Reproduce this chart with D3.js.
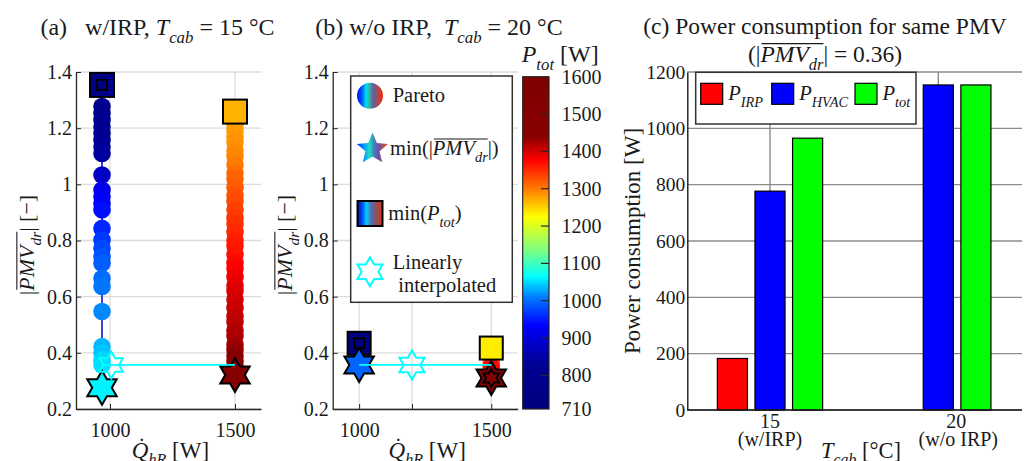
<!DOCTYPE html>
<html><head><meta charset="utf-8">
<script src="https://cdn.jsdelivr.net/npm/d3@7"></script>
<style>
html,body{margin:0;padding:0;background:#fff;}
svg text{font-family:'Liberation Serif','Times New Roman',serif;fill:#1a1a1a;white-space:pre;}
</style></head>
<body><svg id="c" width="1028" height="461"></svg>
<script>
// ---------------- DATA ----------------
// Panel (a): w/IRP, Tcab = 15 °C
const paretoA1_Q = 968;
const paretoA1_PMV = [1.277,1.253,1.229,1.205,1.182,1.158,1.134,1.110,1.033,0.980,0.956,0.932,0.909,0.843,0.802,0.772,0.742,0.719,0.665,0.636,0.547,0.422,0.400,0.374,0.357];
const paretoA1_Ptot = [800,806,812,818,825,830,836,842,880,915,925,935,942,958,968,978,984,990,1000,1005,1015,1035,1040,1048,1052];
const paretoA2_Q = 1500;
const paretoA2_PMV = [1.21,1.19,1.17,1.15,1.12,1.10,1.07,1.04,1.02,0.99,0.96,0.94,0.91,0.88,0.86,0.83,0.80,0.78,0.75,0.72,0.70,0.67,0.64,0.62,0.59,0.56,0.53,0.51,0.48,0.46,0.43,0.41,0.39,0.37,0.35];
const paretoA2_Ptot = [1279,1281,1284,1287,1290,1293,1300,1308,1315,1320,1326,1330,1337,1342,1347,1352,1358,1362,1367,1372,1378,1385,1390,1395,1400,1404,1408,1412,1416,1420,1426,1432,1440,1460,1480];
const minPtotA_Q = [968, 1500];
const minPtotA_PMV = [1.354, 1.259];
const minPtotA_Ptot = [770, 1268];
const innerSquareA_Q = [968];
const innerSquareA_PMV = [1.354];
const innerSquareA_Ptot = [770];
const minPmvA_Q = [968, 1500];
const minPmvA_PMV = [0.276, 0.321];
const minPmvA_Ptot = [1060, 1500];
const interpLineA_Q = [968, 1500];
const interpLineA_PMV = [0.357, 0.357];
const interpStarA_Q = [1005];
const interpStarA_PMV = [0.357];

// Panel (b): w/o IRP, Tcab = 20 °C
const paretoB_Q = [1500, 1500, 1500];
const paretoB_PMV = [0.38, 0.365, 0.35];
const paretoB_Ptot = [1290, 1330, 1370];
const minPtotB_Q = [1000, 1500];
const minPtotB_PMV = [0.434, 0.417];
const minPtotB_Ptot = [718, 1235];
const innerSquareB_Q = [1000];
const innerSquareB_PMV = [0.434];
const innerSquareB_Ptot = [718];
const minPmvB_Q = [1000, 1500];
const minPmvB_PMV = [0.357, 0.31];
const minPmvB_Ptot = [995, 1500];
const innerStarB_Q = [1500];
const innerStarB_PMV = [0.31];
const innerStarB_Ptot = [1500];
const interpLineB_Q = [1000, 1500];
const interpLineB_PMV = [0.357, 0.357];
const interpStarB_Q = [1200];
const interpStarB_PMV = [0.357];

// axes ticks
const pmvTicks = [0.2, 0.4, 0.6, 0.8, 1.0, 1.2, 1.4];
const pmvTickLabels = ['0.2','0.4','0.6','0.8','1','1.2','1.4'];
const qTicksA = [1000, 1500];
const qTickLabelsA = ['1000','1500'];
const qTicksB = [1000, 1200, 1500];
const qTickLabelsB = ['1000','','1500'];

// colorbar
const cbTicks = [710, 800, 900, 1000, 1100, 1200, 1300, 1400, 1500, 1600];
const cbTickLabels = ['710','800','900','1000','1100','1200','1300','1400','1500','1600'];
const cmapValues = [710, 830, 875, 935, 1011, 1065, 1136, 1225, 1297, 1377, 1440, 1600];
const cmapColors = ['#000080','#000092','#0000C0','#0000FF','#0080FF','#00FFFF','#80FF80','#FFFF00','#FF8000','#FF0000','#880000','#7F0000'];

// Panel (c)
const tcabCats = ['15', '20'];
const tcabSubLabels = ['(w/IRP)', '(w/o IRP)'];
const seriesNames = ['IRP', 'HVAC', 'tot'];
const seriesColors = ['#FF0000', '#0000FF', '#00FF00'];
const P_IRP = [183, 0];
const P_HVAC = [777, 1154];
const P_tot = [965, 1154];
const powerTicks = [0, 200, 400, 600, 800, 1000, 1200];
const powerTickLabels = ['0','200','400','600','800','1000','1200'];

// ---------------- DRAW ----------------
const svg = d3.select('#c');
const FS = 20;
const ink = '#1a1a1a';

const cmap = d3.scaleLinear().domain(cmapValues).range(cmapColors).clamp(true);

function rich(parent, x, y, parts, fs, anchor, transform) {
  const g = parent.append('g');
  if (transform) g.attr('transform', transform);
  const t = g.append('text').attr('x', x).attr('y', y).attr('font-size', fs)
    .attr('text-anchor', anchor || 'start');
  let shift = 0;
  const olIdx = [];
  let idx = 0;
  parts.forEach(p => {
    const s = p.sub ? fs * 0.32 : 0;
    const ts = t.append('tspan').text(p.t).attr('dy', s - shift);
    shift = s;
    if (p.i) ts.attr('font-style', 'italic');
    if (p.sub) ts.attr('font-size', fs * 0.7);
    for (let k = 0; k < p.t.length; k++) { if (p.ol) olIdx.push(idx); idx++; }
  });
  if (olIdx.length) {
    const node = t.node();
    let x0 = Infinity, x1 = -Infinity;
    olIdx.forEach(i => { const e = node.getExtentOfChar(i); x0 = Math.min(x0, e.x); x1 = Math.max(x1, e.x + e.width); });
    g.append('line').attr('x1', x0 + 1).attr('x2', x1).attr('y1', y - fs * 0.78).attr('y2', y - fs * 0.78)
      .attr('stroke', ink).attr('stroke-width', 1.1);
  }
  return g;
}

function hexPath(R) {
  const pts = [];
  for (let k = 0; k < 12; k++) {
    const a = (-90 + k * 30) * Math.PI / 180;
    const r = k % 2 === 0 ? R : R / Math.sqrt(3);
    pts.push([r * Math.cos(a), r * Math.sin(a)]);
  }
  return 'M' + pts.map(p => p[0].toFixed(2) + ',' + p[1].toFixed(2)).join('L') + 'Z';
}
function star5Path(R, ratio) {
  const pts = [];
  for (let k = 0; k < 10; k++) {
    const a = (-90 + k * 36) * Math.PI / 180;
    const r = k % 2 === 0 ? R : R * ratio;
    pts.push([r * Math.cos(a), r * Math.sin(a)]);
  }
  return 'M' + pts.map(p => p[0].toFixed(2) + ',' + p[1].toFixed(2)).join('L') + 'Z';
}

const yPMV = d3.scaleLinear().domain([0.2, 1.4]).range([409, 72]);
const xA = d3.scaleLinear().domain([864, 1604]).range([76, 261]);
const xB = d3.scaleLinear().domain([900, 1600]).range([332.7, 517.7]);

const pmvLabelParts = [{t:'|'},{t:'PMV',i:true,ol:true},{t:'dr',i:true,sub:true,ol:true},{t:'| [−]'}];

function framePMV(x, qTicks, qLabels, ylabX) {
  const g = svg.append('g');
  const [x0, x1] = x.range();
  g.selectAll('.gy').data(pmvTicks).join('line')
    .attr('x1', x0).attr('x2', x1).attr('y1', d => yPMV(d)).attr('y2', d => yPMV(d))
    .attr('stroke', '#dcdcdc').attr('stroke-width', 1.3);
  g.selectAll('.gx').data(qTicks).join('line')
    .attr('x1', d => x(d)).attr('x2', d => x(d)).attr('y1', 72).attr('y2', 409)
    .attr('stroke', '#dcdcdc').attr('stroke-width', 1.3);
  const ay = g.append('g').attr('transform', `translate(${x0},0)`)
    .call(d3.axisLeft(yPMV).tickValues(pmvTicks).tickFormat((d, i) => pmvTickLabels[i]).tickSizeInner(-5).tickSizeOuter(0).tickPadding(4));
  const ax = g.append('g').attr('transform', `translate(0,409)`)
    .call(d3.axisBottom(x).tickValues(qTicks).tickFormat((d, i) => qLabels[i]).tickSizeInner(-5).tickSizeOuter(0).tickPadding(14));
  [ay, ax].forEach(a => {
    a.attr('font-family', null).attr('font-size', FS);
    a.selectAll('path').attr('stroke', '#262626').attr('stroke-width', 1.3);
    a.selectAll('line').attr('stroke', '#262626');
    a.selectAll('text').attr('fill', ink);
  });
  rich(svg, 0, 0, pmvLabelParts, 22, 'middle', `translate(${ylabX},245) rotate(-90)`);
  rich(svg, (x0 + x1) / 2 + 2, 457.5, [{t:'Q̇',i:true},{t:'hR',i:true,sub:true},{t:' [W]'}], 23, 'middle');
  return g;
}

function drawPareto(g, x, qs, pmvs, ptots, lineColor) {
  const pts = pmvs.map((p, i) => ({q: qs[i], p, c: ptots[i]}));
  if (lineColor) {
    g.append('path').datum(pts).attr('fill', 'none').attr('stroke', lineColor).attr('stroke-width', 1.5)
      .attr('d', d3.line().x(d => x(d.q)).y(d => yPMV(d.p)));
  }
  g.selectAll(null).data(pts).join('circle')
    .attr('cx', d => x(d.q)).attr('cy', d => yPMV(d.p)).attr('r', 8.8)
    .attr('fill', d => cmap(d.c));
}
function drawSquares(g, x, qs, pmvs, ptots, side) {
  g.selectAll(null).data(qs.map((q, i) => ({q, p: pmvs[i], c: ptots[i]}))).join('rect')
    .attr('x', d => x(d.q) - side / 2).attr('y', d => yPMV(d.p) - side / 2)
    .attr('width', side).attr('height', side)
    .attr('fill', d => cmap(d.c)).attr('stroke', '#000').attr('stroke-width', 2);
}
function drawStars(g, x, qs, pmvs, ptots, R, hollow) {
  g.selectAll(null).data(qs.map((q, i) => ({q, p: pmvs[i], c: ptots ? ptots[i] : 0}))).join('path')
    .attr('transform', d => `translate(${x(d.q)},${yPMV(d.p)})`)
    .attr('d', hexPath(R))
    .attr('fill', d => hollow ? 'none' : cmap(d.c))
    .attr('stroke', hollow ? '#00FFFF' : '#000').attr('stroke-width', 2);
}
function drawInterpLine(g, x, qs, pmvs) {
  g.append('path').datum(qs.map((q, i) => [q, pmvs[i]]))
    .attr('fill', 'none').attr('stroke', '#00FFFF').attr('stroke-width', 1.8)
    .attr('d', d3.line().x(d => x(d[0])).y(d => yPMV(d[1])));
}

// ----- Panel (a)
framePMV(xA, qTicksA, qTickLabelsA, 34);
const mA = svg.append('g');
drawPareto(mA, xA, paretoA1_PMV.map(() => paretoA1_Q), paretoA1_PMV, paretoA1_Ptot, '#0000CC');
drawPareto(mA, xA, paretoA2_PMV.map(() => paretoA2_Q), paretoA2_PMV, paretoA2_Ptot, '#AA0000');
drawSquares(mA, xA, minPtotA_Q, minPtotA_PMV, minPtotA_Ptot, 24);
drawSquares(mA, xA, innerSquareA_Q, innerSquareA_PMV, innerSquareA_Ptot, 10);
drawStars(mA, xA, minPmvA_Q, minPmvA_PMV, minPmvA_Ptot, 17);
drawInterpLine(mA, xA, interpLineA_Q, interpLineA_PMV);
drawStars(mA, xA, interpStarA_Q, interpStarA_PMV, null, 13.5, true);

rich(svg, 157.5, 35, [{t:'(a)   w/IRP, '},{t:'T',i:true},{t:'cab',i:true,sub:true},{t:' = 15 °C'}], 24, 'middle');

// ----- Panel (b)
framePMV(xB, qTicksB, qTickLabelsB, 292);
const mB = svg.append('g');
drawPareto(mB, xB, paretoB_Q, paretoB_PMV, paretoB_Ptot, null);
drawSquares(mB, xB, minPtotB_Q, minPtotB_PMV, minPtotB_Ptot, 23);
drawSquares(mB, xB, innerSquareB_Q, innerSquareB_PMV, innerSquareB_Ptot, 10);
drawStars(mB, xB, minPmvB_Q, minPmvB_PMV, minPmvB_Ptot, 17);
drawStars(mB, xB, innerStarB_Q, innerStarB_PMV, innerStarB_Ptot, 9);
drawInterpLine(mB, xB, interpLineB_Q, interpLineB_PMV);
drawStars(mB, xB, interpStarB_Q, interpStarB_PMV, null, 14.5, true);

rich(svg, 439, 35, [{t:'(b) w/o IRP,  '},{t:'T',i:true},{t:'cab',i:true,sub:true},{t:' = 20 °C'}], 24, 'middle');

// legend (b)
const defs = svg.append('defs');
function grad(id, stops) {
  const lg = defs.append('linearGradient').attr('id', id).attr('x1', '0%').attr('x2', '100%').attr('y1', '0%').attr('y2', '0%');
  stops.forEach(s => lg.append('stop').attr('offset', s[0]).attr('stop-color', s[1]));
}
grad('gCirc', [[0,'#0010FF'],[0.2,'#0060FF'],[0.35,'#00E0F0'],[0.5,'#30B090'],[0.62,'#6A5AA8'],[0.8,'#A05050'],[1,'#FF2000']]);
grad('gStar', [[0,'#0030FF'],[0.25,'#00A0FF'],[0.4,'#20E0C0'],[0.55,'#4080C0'],[0.7,'#7050A0'],[0.85,'#B05060'],[1,'#FF6020']]);
grad('gSq', [[0,'#0010A0'],[0.2,'#0050FF'],[0.35,'#00D0FF'],[0.55,'#5070B0'],[0.75,'#905060'],[1,'#E03010']]);

const lgB = svg.append('g');
lgB.append('rect').attr('x', 350.7).attr('y', 76).attr('width', 161.6).attr('height', 226.3)
  .attr('fill', '#fff').attr('stroke', '#333').attr('stroke-width', 1.5);
lgB.append('circle').attr('cx', 370).attr('cy', 95.7).attr('r', 13).attr('fill', 'url(#gCirc)');
lgB.append('path').attr('transform', 'translate(372.5,149)').attr('d', star5Path(16.5, 0.45)).attr('fill', 'url(#gStar)');
lgB.append('rect').attr('x', 357.5).attr('y', 201).attr('width', 25).attr('height', 25)
  .attr('fill', 'url(#gSq)').attr('stroke', '#000').attr('stroke-width', 2);
lgB.append('path').attr('transform', 'translate(370,271.7)').attr('d', hexPath(14.5))
  .attr('fill', 'none').attr('stroke', '#00FFFF').attr('stroke-width', 2);
rich(lgB, 392.7, 102, [{t:'Pareto'}], 20.5, 'start');
rich(lgB, 390, 155, [{t:'min(|'},{t:'PMV',i:true,ol:true},{t:'dr',i:true,sub:true,ol:true},{t:'|)'}], 20.5, 'start');
rich(lgB, 388.3, 220, [{t:'min('},{t:'P',i:true},{t:'tot',i:true,sub:true},{t:')'}], 20.5, 'start');
rich(lgB, 392.7, 268.5, [{t:'Linearly'}], 20.5, 'start');
rich(lgB, 398.3, 292, [{t:'interpolated'}], 20.5, 'start');

// ----- Colorbar
const cbY = d3.scaleLinear().domain([710, 1600]).range([409, 76.7]);
const cbX0 = 522.7, cbW = 26.3;
const lgc = defs.append('linearGradient').attr('id', 'gCb').attr('gradientUnits', 'userSpaceOnUse')
  .attr('x1', 0).attr('x2', 0).attr('y1', cbY(710)).attr('y2', cbY(1600));
cmapValues.forEach((v, i) => lgc.append('stop').attr('offset', (v - 710) / (1600 - 710)).attr('stop-color', cmapColors[i]));
svg.append('rect').attr('x', cbX0).attr('y', cbY(1600)).attr('width', cbW).attr('height', cbY(710) - cbY(1600))
  .attr('fill', 'url(#gCb)').attr('stroke', '#262626').attr('stroke-width', 1.2);
svg.append('g').selectAll('line').data(cbTicks.slice(1, -1)).join('line')
  .attr('x1', cbX0 + cbW - 8).attr('x2', cbX0 + cbW).attr('y1', d => cbY(d)).attr('y2', d => cbY(d))
  .attr('stroke', '#262626').attr('stroke-width', 1.2);
svg.append('g').selectAll('text').data(cbTicks).join('text')
  .attr('x', 561.5).attr('y', d => cbY(d)).attr('dy', '0.35em').attr('font-size', FS)
  .text((d, i) => cbTickLabels[i]);
rich(svg, 521.7, 62, [{t:'P',i:true},{t:'tot',i:true,sub:true},{t:' [W]'}], 24, 'start');

// ----- Panel (c)
const yC = d3.scaleLinear().domain([0, 1200]).range([410, 72]);
const xC = d3.scalePoint().domain(tcabCats).range([770, 938.3]);
const xSub = d3.scaleBand().domain(seriesNames).range([-56.4, 56.4]).paddingInner(0.2).paddingOuter(0.1);
const catLabelShift = [0, 18];
const seriesVals = [P_IRP, P_HVAC, P_tot];
const gC = svg.append('g');
const cL = 687.3, cR = 1022;
gC.selectAll('.hy').data(powerTicks).join('line')
  .attr('x1', cL).attr('x2', cR).attr('y1', d => yC(d)).attr('y2', d => yC(d))
  .attr('stroke', '#8c8c8c').attr('stroke-width', 1.4);
gC.selectAll('.vx').data(tcabCats).join('line')
  .attr('x1', d => xC(d)).attr('x2', d => xC(d)).attr('y1', 72).attr('y2', 410)
  .attr('stroke', '#8c8c8c').attr('stroke-width', 1.4);
seriesNames.forEach((s, si) => {
  gC.selectAll(null).data(tcabCats).join('rect')
    .attr('x', d => xC(d) + xSub(s)).attr('width', xSub.bandwidth())
    .attr('y', (d, i) => yC(seriesVals[si][i])).attr('height', (d, i) => yC(0) - yC(seriesVals[si][i]))
    .attr('fill', seriesColors[si]).attr('stroke', '#000').attr('stroke-width', 1.2);
});
const ayC = gC.append('g').attr('transform', `translate(${cL},0)`)
  .call(d3.axisLeft(yC).tickValues(powerTicks).tickFormat((d, i) => powerTickLabels[i]).tickSizeInner(0).tickSizeOuter(0).tickPadding(2));
ayC.attr('font-family', null).attr('font-size', 19.5);
ayC.selectAll('path').attr('stroke', '#1a1a1a').attr('stroke-width', 1.4);
ayC.selectAll('text').attr('fill', ink);
gC.append('line').attr('x1', cL).attr('x2', cR).attr('y1', 410).attr('y2', 410).attr('stroke', '#1a1a1a').attr('stroke-width', 1.4);
gC.selectAll('.xl').data(tcabCats).join('text')
  .attr('x', (d, i) => xC(d) + catLabelShift[i]).attr('y', 427.5).attr('text-anchor', 'middle').attr('font-size', FS).text(d => d);
gC.selectAll('.xl2').data(tcabSubLabels).join('text')
  .attr('x', (d, i) => xC(tcabCats[i]) + catLabelShift[i] + (i ? 2 : 0)).attr('y', 446).attr('text-anchor', 'middle').attr('font-size', FS).text(d => d);
rich(svg, 861, 458, [{t:'T',i:true},{t:'cab',i:true,sub:true},{t:' [°C]'}], 22.5, 'middle');
rich(svg, 0, 0, [{t:'Power consumption [W]'}], 23, 'middle', 'translate(640,241) rotate(-90)');
rich(svg, 825, 34, [{t:'(c) Power consumption for same PMV'}], 23.5, 'middle');
rich(svg, 825, 62, [{t:'(|'},{t:'PMV',i:true,ol:true},{t:'dr',i:true,sub:true,ol:true},{t:'| = 0.36)'}], 23.5, 'middle');

// legend (c)
const lgC = svg.append('g');
lgC.append('rect').attr('x', 695.7).attr('y', 72.3).attr('width', 220.3).attr('height', 51.7)
  .attr('fill', '#fff').attr('stroke', '#333').attr('stroke-width', 1.5);
const legX = [700.7, 771.7, 855];
seriesNames.forEach((s, i) => {
  lgC.append('rect').attr('x', legX[i]).attr('y', 83.3).attr('width', 22).attr('height', 21)
    .attr('fill', seriesColors[i]).attr('stroke', '#000').attr('stroke-width', 1.2);
  rich(lgC, legX[i] + 27.5, 100, [{t:'P',i:true},{t:s,i:true,sub:true}], 20.5, 'start');
});
</script></body></html>
